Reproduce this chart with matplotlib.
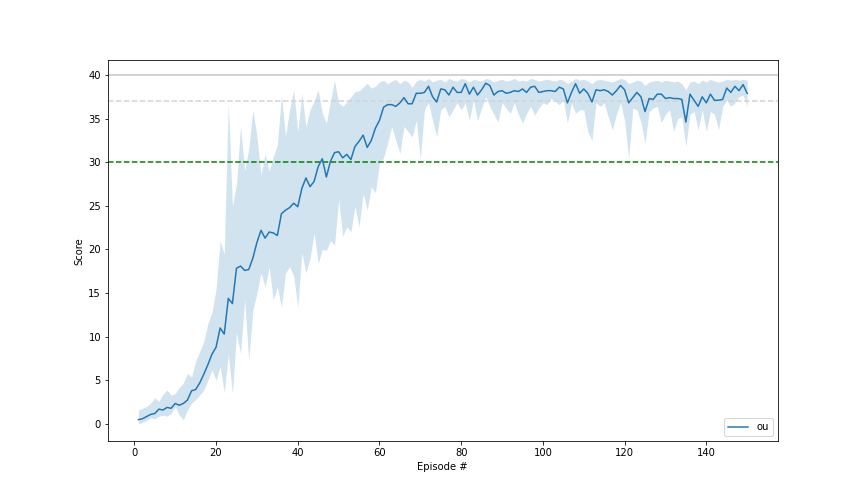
import matplotlib
matplotlib.use("Agg")
import matplotlib.pyplot as plt
import numpy as np

episodes = np.arange(1, 151)

mean_score = [
    0.5, 0.6, 0.85, 1.1, 1.2, 1.7, 1.6, 1.9, 1.8, 2.35,
    2.15, 2.35, 2.75, 3.8, 3.95, 4.7, 5.7, 6.8, 8.0, 8.8,
    11.0, 10.3, 14.4, 13.8, 17.85, 18.1, 17.6, 17.7, 19.0, 20.8,
    22.2, 21.3, 22.0, 21.9, 21.6, 24.1, 24.5, 24.8, 25.3, 24.9,
    27.0, 28.2, 27.2, 27.8, 29.5, 30.4, 28.3, 30.1, 31.1, 31.2,
    30.5, 30.9, 30.3, 31.8, 32.4, 33.1, 31.7, 32.5, 33.9, 34.8,
    36.3, 36.6, 36.6, 36.4, 36.8, 37.4, 36.7, 36.7, 37.9, 37.9,
    38.0, 38.7, 37.5, 36.9, 38.4, 38.3, 37.7, 38.6, 38.0, 38.0,
    39.0, 37.8, 38.6, 37.7, 38.3, 39.05, 38.8, 37.7, 38.1, 38.2,
    37.9, 38.0, 38.2, 38.1, 38.4, 38.0, 38.6, 38.7, 38.0, 38.1,
    38.2, 38.2, 38.1, 38.6, 38.4, 36.8, 38.0, 39.0, 37.9, 38.4,
    37.9, 36.9, 38.3, 38.2, 38.3, 38.1, 37.7, 38.2, 38.8, 38.3,
    36.8, 37.4, 38.0, 37.5, 35.8, 37.3, 37.2, 37.8, 37.8, 37.3,
    37.4, 37.3, 37.3, 37.2, 34.6, 37.8, 37.1, 36.4, 37.5, 36.8,
    37.8, 37.1, 37.1, 37.2, 38.5, 38.0, 38.7, 38.2, 38.9, 37.9,
]

upper_score = [
    1.6, 1.8, 2.0, 2.4, 3.0, 2.6, 3.4, 3.9, 3.3, 3.5,
    4.2, 4.7, 5.8, 5.4, 7.2, 8.3, 9.5, 11.5, 12.8, 15.5,
    21.0, 19.5, 36.8, 25.0, 27.5, 34.2, 29.0, 31.5, 36.0, 33.0,
    28.5, 31.0, 29.0, 30.6, 32.0, 37.7, 33.0, 36.0, 38.3, 33.5,
    37.9, 34.1, 36.0, 37.0, 38.3, 35.6, 34.5, 37.0, 39.4, 36.8,
    36.4, 36.9, 37.5, 38.1, 38.2, 38.6, 39.05, 38.5, 38.7, 39.2,
    39.4, 39.0, 39.3, 39.5, 39.0, 39.4, 39.2, 38.6, 39.3, 39.5,
    39.3, 39.6, 39.2, 39.4, 39.5, 39.2, 39.6, 39.4, 39.3, 39.6,
    39.5, 39.2, 39.5, 39.4, 39.3, 39.6, 39.5, 39.2, 39.4, 39.5,
    39.3, 39.4, 39.6, 39.3, 39.4, 39.3, 39.6, 39.5, 39.3, 39.4,
    39.5, 39.4, 39.3, 39.5, 39.4, 39.0, 39.3, 39.6, 39.4, 39.5,
    39.3, 39.0, 39.4, 39.5, 39.4, 39.3, 39.2, 39.4, 39.6, 39.5,
    39.0, 39.2, 39.4, 39.3, 38.8, 39.2, 39.3, 39.4, 39.2, 39.4,
    39.3, 39.2, 39.3, 39.0, 38.3, 39.2, 39.3, 39.0, 39.4, 39.2,
    39.5, 39.3, 39.2, 39.3, 39.5, 39.4, 39.5, 39.4, 39.5, 39.4,
]

lower_score = [
    0.0, 0.2, 0.4, 0.7, 0.6, 0.9, 1.0, 0.9, 1.2, 2.0,
    1.0, 0.5, 1.6, 2.4, 2.8, 3.3, 3.9, 5.0, 6.2, 5.0,
    6.6, 3.6, 8.0, 3.5, 10.4, 8.1, 14.2, 7.3, 13.0, 15.0,
    17.3, 15.7, 18.0, 14.2, 15.7, 13.4, 17.3, 18.0, 17.0, 13.4,
    19.6, 17.3, 19.0, 21.9, 18.4, 20.0, 19.9, 21.0, 20.5, 25.7,
    21.5, 22.6, 22.0, 24.9, 22.6, 26.4, 24.5, 27.2, 26.5, 29.9,
    30.5, 32.2, 34.1, 32.5, 31.0, 34.1, 33.5, 32.9, 34.8, 30.3,
    36.0, 36.8, 34.8, 32.9, 36.0, 36.4, 35.2, 36.0, 36.8, 36.0,
    36.8, 34.8, 37.1, 34.8, 36.2, 37.5, 36.4, 35.5, 34.6, 36.8,
    36.2, 35.6, 36.8, 35.5, 34.5, 35.6, 36.4, 35.4, 36.2, 36.8,
    36.6, 37.3, 37.0, 36.6, 37.1, 34.5, 36.8, 35.6, 36.0, 36.0,
    33.5, 32.5, 36.8, 36.4, 36.8, 35.2, 33.7, 35.5, 36.8, 34.8,
    30.4, 36.2, 36.0, 34.6, 32.2, 35.8, 36.2, 36.4, 34.5, 35.5,
    36.0, 33.5, 35.0, 35.2, 31.8, 35.5, 35.8, 33.7, 36.0, 33.5,
    35.8, 35.5, 33.7, 36.4, 37.1, 36.4, 36.8, 37.5, 37.7, 36.4,
]

max_line = 40
ref_line = 37
target_line = 30

fig, ax = plt.subplots(figsize=(12, 7), dpi=72)
fig.subplots_adjust(left=0.125, right=0.9, bottom=0.125, top=0.88)

ax.axhline(max_line, color='lightgray', linewidth=2)
ax.axhline(ref_line, color='lightgray', linestyle='--', linewidth=1.5)
ax.axhline(target_line, color='green', linestyle='--', linewidth=1.5)

ax.fill_between(episodes, lower_score, upper_score, color='C0', alpha=0.2, linewidth=0)
ax.plot(episodes, mean_score, color='C0', linewidth=1.5, label='ou')

ax.set_xlim(-6.45, 157.45)
ax.set_ylim(-1.95, 41.66)
ax.set_xlabel('Episode #')
ax.set_ylabel('Score')
ax.legend(loc='lower right')

fig.savefig('out.png', dpi=72)
